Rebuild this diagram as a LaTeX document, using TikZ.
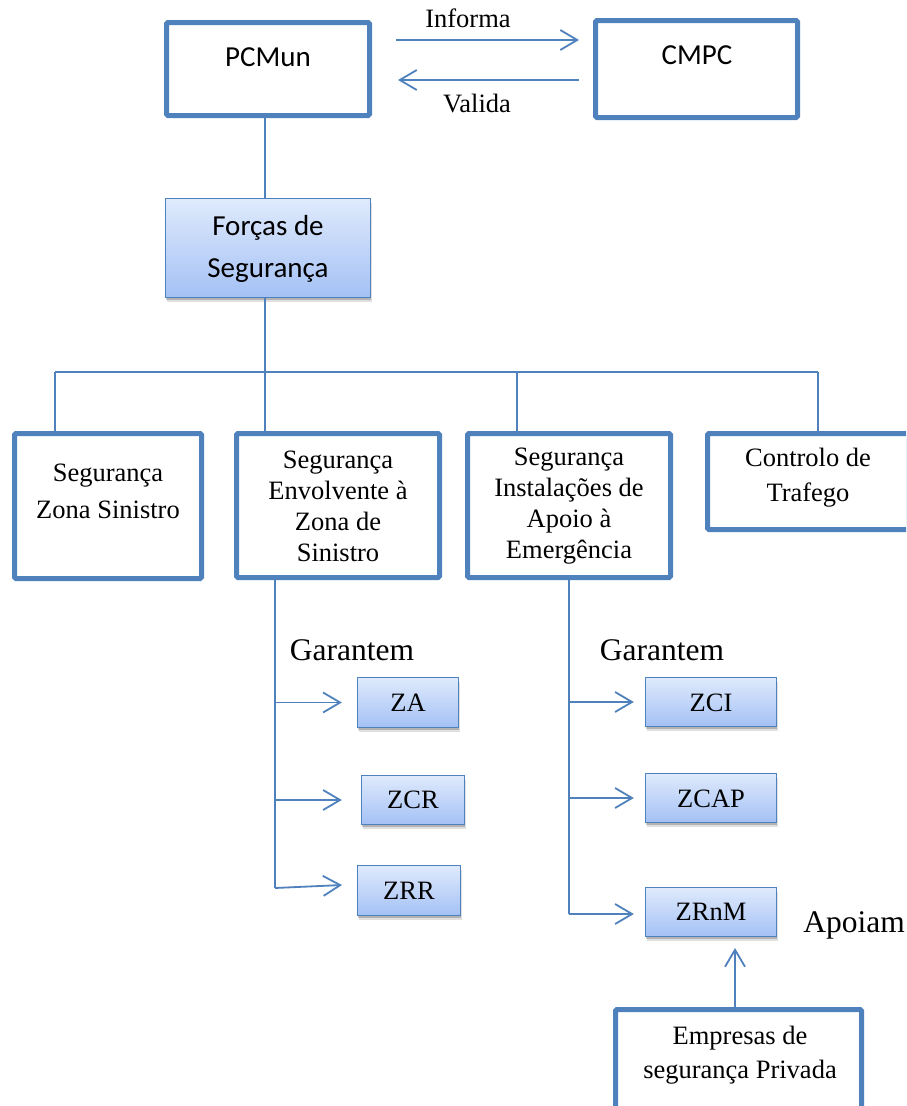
\documentclass[tikz,border=0pt]{standalone}
\usepackage{fontspec}
\setmainfont{Liberation Serif}
\newfontfamily\calibri{Carlito}
\usetikzlibrary{arrows.meta,shadows}
\definecolor{obl}{HTML}{4F81BD}
\definecolor{gtop}{RGB}{223,234,252}
\definecolor{gbot}{RGB}{164,193,245}

\tikzset{
  thickbox/.style={draw=obl, line width=5pt, fill=white, inner sep=0pt, rounded corners=1.5pt},
  gradbox/.style={draw=obl, line width=1.3pt, top color=gtop, bottom color=gbot, inner sep=0pt,
    drop shadow={shadow xshift=1pt, shadow yshift=-4pt, opacity=0.12, fill=black},
    drop shadow={shadow xshift=0.5pt, shadow yshift=-2.5pt, opacity=0.2, fill=black}},
  link/.style={draw=obl, line width=1.8pt},
  arr/.style={link, -{Straight Barb[length=17pt, width=20pt, line width=1.8pt]}},
  tms/.style={font=\fontsize{26.5}{31}\selectfont, align=center, inner sep=0pt},
  big/.style={font=\fontsize{31.5}{36}\selectfont, inner sep=0pt},
  cal/.style={font=\calibri\fontsize{29}{42}\selectfont, align=center, inner sep=0pt},
}

\begin{document}
\begin{tikzpicture}[x=1pt, y=-1pt]
\useasboundingbox (0,0) rectangle (906,1106);
\clip (0,0) rectangle (906,1106);

% top level: command posts
\node[thickbox, minimum width=203pt, minimum height=93pt] (pcm) at (268,69) {};
\node[cal] (pcmt) at (268,57) {PCMun};
\node[thickbox, minimum width=202pt, minimum height=97pt] (cmpc) at (696.5,69) {};
\node[cal] (cmpct) at (697,55) {CMPC};

\coordinate (inA) at (396,40);
\coordinate (inB) at (579,40);
\coordinate (vaA) at (579,80);
\coordinate (vaB) at (398,80);
\draw[arr] (inA) -- (inB);
\draw[arr] (vaA) -- (vaB);
\node[tms] (inf) at (468,18) {Informa};
\node[tms] (val) at (477,104) {Valida};

% security forces
\node[gradbox, minimum width=205pt, minimum height=99pt] (forcas) at (268,248) {};
\node[cal] (forcast) at (268,249) {Forças de\\Segurança};

\draw[link] ([xshift=-3pt]pcm.south) -- ([xshift=-3pt]forcas.north);

% distribution bus
\coordinate (d1) at (55,372);
\coordinate (d2) at (265,372);
\coordinate (d3) at (517,372);
\coordinate (d4) at (818,372);
\draw[link] ([xshift=-3pt]forcas.south) -- (d2);
\draw[link] (d1) -- (d4);

% second level
\node[thickbox, minimum width=187pt, minimum height=145pt] (b1) at (108,506) {};
\node[tms, font=\fontsize{26.5}{37}\selectfont] (b1t) at (108,491.5) {Segurança\\Zona Sinistro};
\node[thickbox, minimum width=203pt, minimum height=144pt] (b2) at (338,505.5) {};
\node[tms] (b2t) at (338,506) {Segurança\\Envolvente à\\Zona de\\Sinistro};
\node[thickbox, minimum width=203pt, minimum height=144pt] (b3) at (569,505.5) {};
\node[tms] (b3t) at (569,506) {Segurança\\Instalações de\\Apoio à\\Emergência};
\node[thickbox, minimum width=201pt, minimum height=96pt] (b4) at (808,481.5) {};
\node[tms, font=\fontsize{26.5}{35}\selectfont] (b4t) at (808,477.5) {Controlo de\\Trafego};

\draw[link] (d1) -- (d1 |- b1.north);
\draw[link] (d2) -- (d2 |- b2.north);
\draw[link] (d3) -- (d3 |- b3.north);
\draw[link] (d4) -- (d4 |- b4.north);

% zones guaranteed by the perimeter security
\node[big] (g1) at (352,650) {Garantem};
\node[gradbox, minimum width=101pt, minimum height=50pt] (za) at (408,702.5) {};
\node[tms] (zat) at (408,703) {ZA};
\node[gradbox, minimum width=103pt, minimum height=49pt] (zcr) at (413,800) {};
\node[tms] (zcrt) at (413,800) {ZCR};
\node[gradbox, minimum width=103pt, minimum height=50pt] (zrr) at (409,890.5) {};
\node[tms] (zrrt) at (409,891) {ZRR};

\coordinate (v2) at (275,888);
\coordinate (v2tip) at (342,885);
\draw[link] (v2 |- b2.south) -- (v2);
\draw[arr, shorten >=15pt] (v2 |- za.west) -- (za.west);
\draw[arr, shorten >=19pt] (v2 |- zcr.west) -- (zcr.west);
\draw[arr] (v2) -- (v2tip);

% zones guaranteed by the support facility security
\node[big] (g2) at (662,650) {Garantem};
\node[gradbox, minimum width=131pt, minimum height=49pt] (zci) at (711,702) {};
\node[tms] (zcit) at (711,703) {ZCI};
\node[gradbox, minimum width=131pt, minimum height=49pt] (zcap) at (711,798) {};
\node[tms] (zcapt) at (711,799) {ZCAP};
\node[gradbox, minimum width=131pt, minimum height=49pt] (zrnm) at (711,912) {};
\node[tms] (zrnmt) at (711,912) {ZRnM};

\coordinate (v3) at (569,914);
\draw[link] (v3 |- b3.south) -- (v3);
\draw[arr, shorten >=11pt] (v3 |- zci.west) -- (zci.west);
\draw[arr, shorten >=11pt] (v3 |- zcap.west) -- (zcap.west);
\draw[arr, shorten >=11pt] (v3) -- (v3 -| zrnm.west);

% private security companies
\node[big] (ap) at (854,925) {Apoiam};
\node[thickbox, minimum width=246pt, minimum height=100pt] (emp) at (738.5,1059.5) {};
\node[tms, font=\fontsize{26.5}{34}\selectfont] (empt) at (740,1055) {Empresas de\\segurança Privada};

\coordinate (etip) at (735,948);
\draw[arr] (etip |- emp.north) -- (etip);
\end{tikzpicture}
\end{document}
